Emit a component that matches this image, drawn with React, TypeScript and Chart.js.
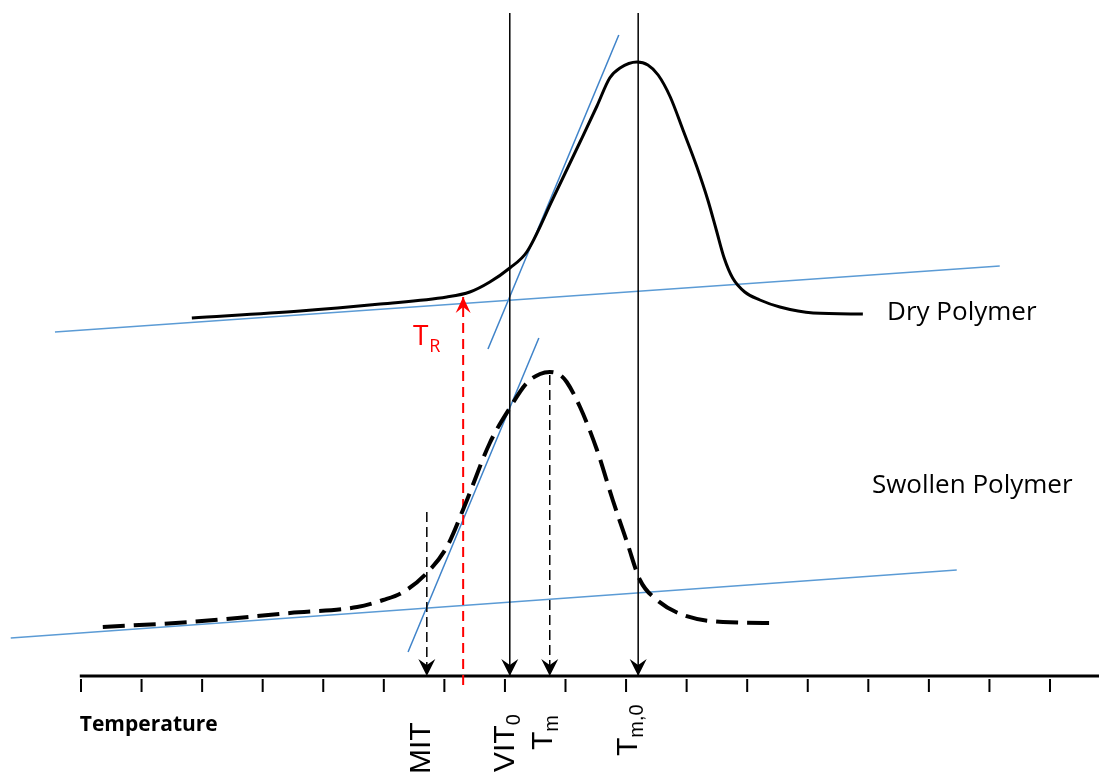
import React, { useEffect, useRef } from "react";
import { Chart, registerables } from "chart.js";

Chart.register(...registerables);

const W = 1099;
const H = 774;

// Temperature axis: a tick every 10 units
const TICK_TEMPS = [0, 10, 20, 30, 40, 50, 60, 70, 80, 90, 100, 110, 120, 130, 140, 150, 160];
const TICK_TOP = -0.3;
const TICK_BOTTOM = -1.6;
const AXIS_T = [-0.2, 168.1];

// Dry polymer DSC trace
const DRY_T = [18.3, 36.2, 49.4, 60.4, 64.2, 67.5, 70.8, 73.6, 77.9, 82.4, 85.2, 87.3, 89.0, 91.8, 93.6, 95.3, 97.3, 99.4, 101.7, 103.5, 104.9, 106.2, 107.6, 109.6, 112.1, 115.4, 120.9, 129.1];
const DRY_S = [35.8, 36.5, 37.2, 37.9, 38.4, 39.4, 40.8, 42.4, 47.7, 53.4, 57.0, 59.8, 60.8, 61.4, 61.1, 60.1, 57.9, 54.6, 50.9, 47.6, 44.6, 41.8, 39.8, 38.4, 37.6, 36.9, 36.3, 36.2];

// Swollen polymer DSC trace
const SWOLLEN_T = [3.6, 18.0, 34.5, 45.6, 49.9, 53.2, 57.1, 60.4, 63.4, 67.5, 70.8, 73.6, 75.8, 77.4, 79.1, 80.2, 82.4, 85.2, 87.8, 90.2, 92.3, 95.1, 99.4, 106.0, 114.9];
const SWOLLEN_S = [4.9, 5.4, 6.3, 6.9, 7.6, 8.4, 10.3, 12.9, 17.1, 23.3, 26.8, 29.3, 30.2, 30.4, 30.1, 29.4, 26.9, 22.6, 17.6, 13.3, 9.6, 7.6, 6.1, 5.4, 5.3];

// Construction lines (baselines and onset tangents)
const DRY_BASE_T = [-4.3, 151.7];
const DRY_BASE_S = [34.4, 41.0];
const DRY_TAN_T = [67.2, 88.8];
const DRY_TAN_S = [32.7, 64.1];
const SW_BASE_T = [-11.6, 144.6];
const SW_BASE_S = [3.8, 10.6];
const SW_TAN_T = [54.0, 75.6];
const SW_TAN_S = [2.4, 33.8];

// Characteristic temperatures and the heights their markers start from
const T_MIT = 57.1;
const T_R = 63.1;
const T_VIT0 = 70.8;
const T_M = 77.4;
const T_M0 = 92.0;
const MIT_TOP = 16.4;
const TM_TOP = 30.1;
const VIT0_TOP = 66.3;
const TM0_TOP = 66.3;
const TR_FROM = -0.9;
const TR_TIP = 37.9;

const CALIBRI = '"Open Sans", "Liberation Sans", sans-serif';
const ARIAL = '"Liberation Sans", Arial, sans-serif';
const BLUE = "#5B9BD5";
const BLUE_DARK = "#3F83C9";
const RED = "#FF0000";

const pts = (xs: number[], ys: number[]) => xs.map((x, i) => ({ x, y: ys[i] }));
const vline = (t: number, a: number, b: number) => [{ x: t, y: a }, { x: t, y: b }];

// Stealth arrowheads: w = width, h = length, notch = distance from tip to the inner back point
type Arrow = { t: number; s: number; dir: "down" | "up"; color: string; w: number; h: number; notch: number };

const ARROWS: Arrow[] = [
  { t: T_MIT, s: 0, dir: "down", color: "#000", w: 17, h: 17, notch: 11 },
  { t: T_VIT0, s: 0, dir: "down", color: "#000", w: 17, h: 17, notch: 11 },
  { t: T_M, s: 0, dir: "down", color: "#000", w: 17, h: 17, notch: 11 },
  { t: T_M0, s: 0, dir: "down", color: "#000", w: 17, h: 17, notch: 11 },
  { t: T_R, s: TR_TIP, dir: "up", color: RED, w: 15, h: 16, notch: 10 },
];

type VLabel = { t: number; dx: number; start: number; main: string; sub: string };

// Rotated axis labels, read bottom to top
const VLABELS: VLabel[] = [
  { t: T_MIT, dx: 3, start: -9.8, main: "MIT", sub: "" },
  { t: T_VIT0, dx: 4, start: -9.6, main: "VIT", sub: "0" },
  { t: T_M, dx: 2, start: -7.4, main: "T", sub: "m" },
  { t: T_M0, dx: -1, start: -8.0, main: "T", sub: "m,0" },
];

const overlay = {
  id: "overlay",
  afterDatasetsDraw(chart: any) {
    const ctx = chart.ctx as CanvasRenderingContext2D;
    const xs = chart.scales.x;
    const ys = chart.scales.y;
    const px = (t: number) => xs.getPixelForValue(t);
    const py = (s: number) => ys.getPixelForValue(s);

    ctx.save();
    // arrowheads
    for (const a of ARROWS) {
      const x = px(a.t);
      const y = py(a.s);
      const k = a.dir === "down" ? -1 : 1;
      ctx.fillStyle = a.color;
      ctx.beginPath();
      ctx.moveTo(x, y);
      ctx.lineTo(x - a.w / 2, y + k * a.h);
      ctx.lineTo(x, y + k * a.notch);
      ctx.lineTo(x + a.w / 2, y + k * a.h);
      ctx.closePath();
      ctx.fill();
    }

    // horizontal labels
    ctx.textBaseline = "alphabetic";
    ctx.textAlign = "left";
    ctx.fillStyle = "#000";
    ctx.font = `26px ${CALIBRI}`;
    ctx.fillText("Dry Polymer", px(133.1), py(35.6));
    ctx.fillText("Swollen Polymer", px(130.6), py(18.3));
    ctx.font = `bold 21px ${CALIBRI}`;
    ctx.fillText("Temperature", px(-0.2), py(-5.5));

    ctx.fillStyle = RED;
    ctx.font = `28px ${CALIBRI}`;
    const trx = px(54.8);
    const try_ = py(33.1);
    ctx.fillText("T", trx, try_);
    const tw = ctx.measureText("T").width;
    ctx.font = `18px ${CALIBRI}`;
    ctx.fillText("R", trx + tw + 1, try_ + 7);

    // rotated labels
    ctx.fillStyle = "#000";
    for (const l of VLABELS) {
      ctx.save();
      ctx.translate(px(l.t) + l.dx, py(l.start));
      ctx.rotate(-Math.PI / 2);
      ctx.font = `30px ${ARIAL}`;
      ctx.fillText(l.main, 0, 0);
      const mw = ctx.measureText(l.main).width;
      if (l.sub) {
        ctx.font = `20px ${ARIAL}`;
        ctx.fillText(l.sub, mw, 6);
      }
      ctx.restore();
    }
    ctx.restore();
  },
};

export default function App() {
  const ref = useRef<HTMLCanvasElement | null>(null);

  useEffect(() => {
    if (!ref.current) return;
    const tickData: any[] = [];
    TICK_TEMPS.forEach((t) => {
      tickData.push({ x: t, y: TICK_TOP }, { x: t, y: TICK_BOTTOM }, { x: t, y: null });
    });

    const line = (data: any[], color: string, width: number, dash: number[] = [], extra: any = {}) => ({
      data,
      borderColor: color,
      borderWidth: width,
      borderDash: dash,
      pointRadius: 0,
      fill: false,
      tension: 0,
      spanGaps: false,
      ...extra,
    });

    const chart = new Chart(ref.current, {
      type: "line",
      data: {
        datasets: [
          line(pts(DRY_T, DRY_S), "#000", 3, [], { cubicInterpolationMode: "monotone" }),
          line(pts(SWOLLEN_T, SWOLLEN_S), "#000", 4, [22, 9], { cubicInterpolationMode: "monotone" }),
          line(vline(T_VIT0, VIT0_TOP, 0), "#000", 1.5),
          line(vline(T_M0, TM0_TOP, 0), "#000", 1.5),
          line(vline(T_MIT, MIT_TOP, 0), "#000", 1.5, [10, 5]),
          line(vline(T_M, TM_TOP, 0), "#000", 1.5, [10, 5]),
          line(vline(T_R, TR_FROM, TR_TIP), RED, 2, [10, 6]),
          line(pts(DRY_BASE_T, DRY_BASE_S), BLUE, 1.5),
          line(pts(SW_BASE_T, SW_BASE_S), BLUE, 1.5),
          line(pts(DRY_TAN_T, DRY_TAN_S), BLUE_DARK, 1.5),
          line(pts(SW_TAN_T, SW_TAN_S), BLUE_DARK, 1.5),
          line([{ x: AXIS_T[0], y: 0 }, { x: AXIS_T[1], y: 0 }], "#000", 3),
          line(tickData, "#000", 2),
        ],
      },
      options: {
        animation: false,
        responsive: false,
        events: [],
        layout: { padding: 0 },
        plugins: { legend: { display: false }, tooltip: { enabled: false }, title: { display: false } },
        scales: {
          x: { type: "linear", min: -13.375, max: 168.09, display: false },
          y: { type: "linear", min: -9.8, max: 67.6, display: false },
        },
      },
      plugins: [overlay],
    });
    return () => chart.destroy();
  }, []);

  return (
    <div style={{ position: "absolute", left: 0, top: 0, width: W, height: H, background: "#fff" }}>
      <canvas ref={ref} width={W} height={H} style={{ display: "block", width: W, height: H }} />
    </div>
  );
}
